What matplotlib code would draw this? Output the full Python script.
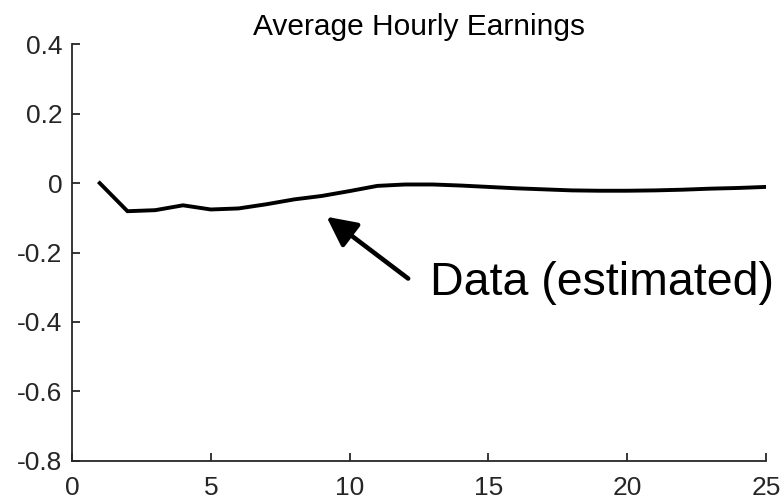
import matplotlib
matplotlib.use("Agg")
import matplotlib.pyplot as plt

plt.rcParams['font.family'] = ['Liberation Sans', 'DejaVu Sans']

# horizon (periods) and estimated response
horizon = list(range(1, 26))
response = [0.000, -0.081, -0.078, -0.064, -0.076, -0.073, -0.061, -0.047, -0.037,
            -0.023, -0.008, -0.004, -0.004, -0.007, -0.011, -0.015, -0.018, -0.021,
            -0.022, -0.022, -0.021, -0.019, -0.016, -0.014, -0.011]

x_ticks = [0, 5, 10, 15, 20, 25]
y_ticks = [-0.8, -0.6, -0.4, -0.2, 0, 0.2, 0.4]
y_labels = ['-0.8', '-0.6', '-0.4', '-0.2', '0', '0.2', '0.4']

axis_col = '#262626'

fig = plt.figure(figsize=(7.84, 5.04), dpi=100)
ax = fig.add_axes([0.0918, 0.0859, 0.8852, 0.8262])

ax.plot(horizon, response, color='black', lw=2.8, solid_joinstyle='miter')

ax.set_xlim(0, 25)
ax.set_ylim(-0.8, 0.4)
ax.set_xticks(x_ticks)
ax.set_yticks(y_ticks)
ax.set_yticklabels(y_labels)

for s in ['top', 'right']:
    ax.spines[s].set_visible(False)
for s in ['left', 'bottom']:
    ax.spines[s].set_color(axis_col)
    ax.spines[s].set_linewidth(1.3)

ax.tick_params(axis='both', direction='in', length=6, width=1.3, color=axis_col,
               labelcolor=axis_col, labelsize=19)
ax.tick_params(axis='x', pad=11)
ax.tick_params(axis='y', pad=7)

ax.set_title('Average Hourly Earnings', fontsize=21.5, pad=7, color='black')

# annotation arrow + label
ax.annotate('', xy=(9.17, -0.097), xytext=(12.11, -0.275),
            arrowprops=dict(arrowstyle='-|>', lw=3.3, color='black',
                            mutation_scale=45, shrinkA=0, shrinkB=0))
ax.text(12.9, -0.323, 'Data (estimated)', fontsize=33.5, color='black',
        ha='left', va='baseline', clip_on=False)

fig.savefig('out.png', dpi=100)
